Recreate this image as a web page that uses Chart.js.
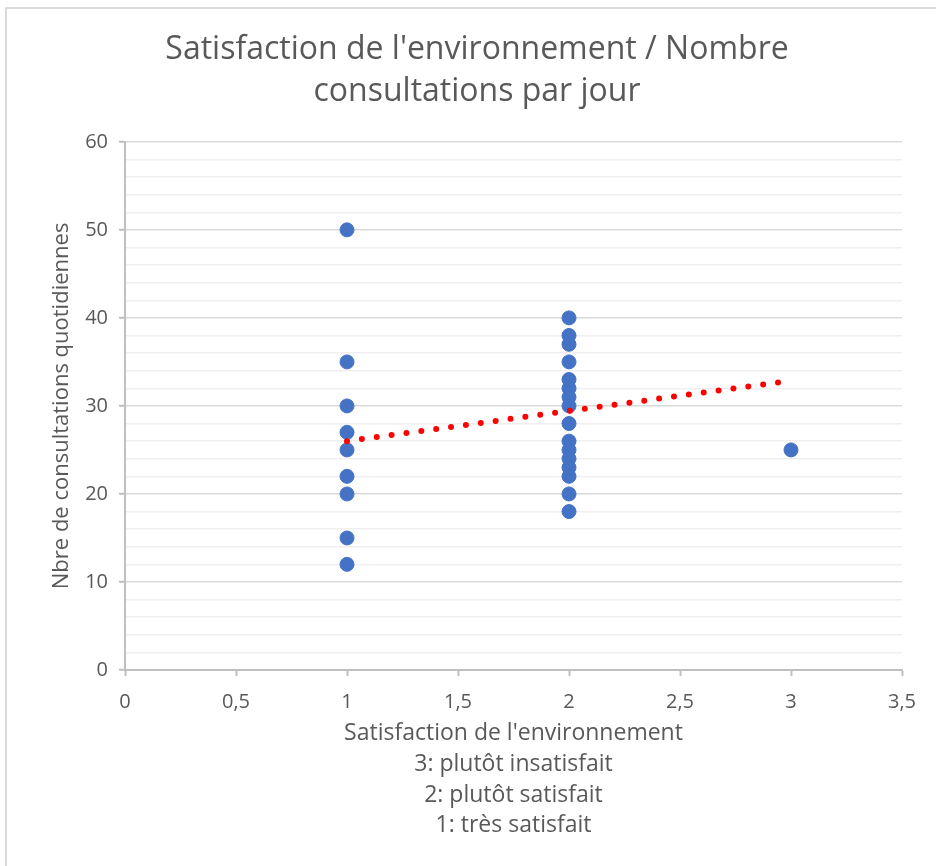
<!DOCTYPE html>
<html>
<head>
<meta charset="utf-8">
<script src="https://cdn.jsdelivr.net/npm/chart.js@4/dist/chart.umd.min.js"></script>
<style>
  html, body { margin: 0; padding: 0; background: #fff; width: 936px; height: 866px; overflow: hidden; }
  #frame { position: absolute; left: 5px; top: 7px; width: 1000px; height: 1000px; border: 2px solid #dadada; box-sizing: border-box; }
  #wrap { position: absolute; left: 0; top: 0; width: 936px; height: 866px; }
</style>
</head>
<body>
<div id="frame"></div>
<div id="wrap"><canvas id="c" width="936" height="866"></canvas></div>
<script>
// Data
const satisfaction = [1, 1, 1, 1, 1, 1, 1, 1, 1,
                      2, 2, 2, 2, 2, 2, 2, 2, 2, 2, 2, 2, 2, 2, 2, 2,
                      3];
const consultations = [50, 35, 30, 27, 25, 22, 20, 15, 12,
                       40, 38, 37, 35, 33, 32, 31, 30, 28, 26, 25, 24, 23, 22, 20, 18,
                       25];
// Trend line (linear) endpoints
const trendX = [1, 2.95];
const trendY = [26, 32.7];

const titleLines = ["Satisfaction de l'environnement / Nombre", "consultations par jour"];
const yTitle = "Nbre de consultations quotidiennes";
const xTitleLines = ["Satisfaction de l'environnement", "3: plutôt insatisfait", "2: plutôt satisfait", "1: très satisfait"];

const scatterPoints = satisfaction.map((x, i) => ({ x: x, y: consultations[i] }));
const trendPoints = trendX.map((x, i) => ({ x: x, y: trendY[i] }));

Chart.defaults.font.family = "'Open Sans', sans-serif";
Chart.defaults.color = '#595959';

new Chart(document.getElementById('c'), {
  type: 'scatter',
  data: {
    datasets: [
      {
        label: 'Tendance',
        type: 'line',
        data: trendPoints,
        borderColor: '#ff0000',
        borderWidth: 6,
        borderDash: [0, 15],
        borderCapStyle: 'round',
        pointRadius: 0,
        fill: false,
        order: 0
      },
      {
        label: 'Consultations',
        data: scatterPoints,
        backgroundColor: '#4472c4',
        borderColor: '#4472c4',
        borderWidth: 1,
        pointRadius: 7,
        order: 1
      }
    ]
  },
  options: {
    responsive: false,
    animation: false,
    events: [],
    layout: { padding: { left: 52, right: 34, top: 0, bottom: 0 } },
    plugins: {
      legend: { display: false },
      tooltip: { enabled: false },
      title: {
        display: true,
        text: titleLines,
        color: '#595959',
        font: { size: 32, weight: 'normal', lineHeight: 1.31 },
        padding: { top: 29, bottom: 29 }
      }
    },
    scales: {
      x: {
        type: 'linear',
        min: 0,
        max: 3.5,
        ticks: {
          stepSize: 0.5,
          color: '#595959',
          font: { size: 20 },
          padding: 14,
          callback: (v) => String(v).replace('.', ',')
        },
        grid: {
          display: true,
          drawOnChartArea: false,
          drawTicks: true,
          tickLength: 6,
          tickColor: '#bfbfbf',
          tickWidth: 2
        },
        border: { display: true, color: '#bfbfbf', width: 2 },
        title: {
          display: true,
          text: xTitleLines,
          color: '#595959',
          font: { size: 23, lineHeight: 1.33 },
          padding: { top: 0, bottom: 25 }
        },
        afterFit: (scale) => { scale.height = 196; }
      },
      y: {
        type: 'linear',
        min: 0,
        max: 60,
        ticks: {
          stepSize: 2,
          autoSkip: false,
          color: '#595959',
          font: { size: 20 },
          padding: 11,
          callback: (v) => (v % 10 === 0 ? String(v) : '')
        },
        grid: {
          drawTicks: true,
          tickLength: 6,
          color: (ctx) => (ctx.tick && ctx.tick.value % 10 === 0 ? '#d9d9d9' : '#efefef'),
          lineWidth: 1.5,
          tickColor: (ctx) => (ctx.tick && ctx.tick.value % 10 === 0 ? '#bfbfbf' : 'rgba(0,0,0,0)'),
          tickWidth: 2
        },
        border: { display: true, color: '#bfbfbf', width: 2 },
        title: {
          display: true,
          text: yTitle,
          color: '#595959',
          font: { size: 22 },
          padding: { top: -3, bottom: 0 }
        },
        afterFit: (scale) => { scale.width = 73; }
      }
    }
  }
});
</script>
</body>
</html>
